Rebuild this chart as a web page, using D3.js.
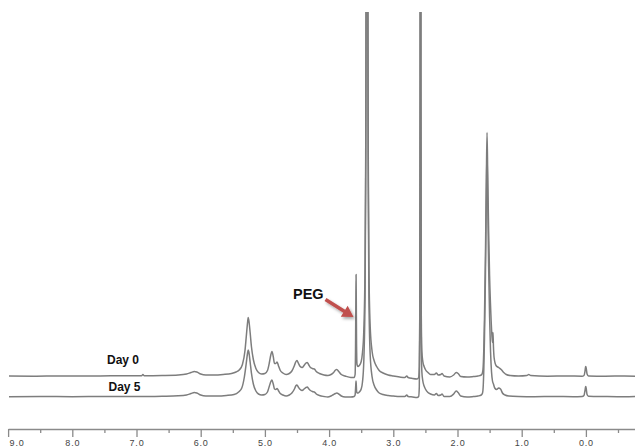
<!DOCTYPE html>
<html>
<head>
<meta charset="utf-8">
<script src="https://cdn.jsdelivr.net/npm/d3@7/dist/d3.min.js"></script>
<style>
  html, body { margin: 0; padding: 0; background: #fff; }
  svg { display: block; }
</style>
</head>
<body>
<svg id="chart" width="635" height="448"></svg>
<script>
// ---- Data ----
// chemical shift (ppm) -> intensity above each trace's own baseline
const day0Spectrum = [
  [9.00,0.5],[8.60,0.3],[8.20,0.6],[7.80,0.4],[7.40,0.7],[7.00,0.8],[6.92,0.8],[6.90,2.0],[6.88,0.8],
  [6.60,1.0],[6.35,1.5],[6.22,2.5],[6.15,4.0],[6.10,5.0],[6.06,4.5],[6.00,2.5],[5.92,1.5],[5.80,1.5],
  [5.65,2.0],[5.52,3.0],[5.45,4.5],[5.40,6.5],[5.35,12],[5.31,26],[5.29,40],[5.27,54],[5.26,59],
  [5.25,56],[5.23,44],[5.21,30],[5.18,17],[5.14,8],[5.10,4],[5.05,2.5],[5.00,3],[4.96,6],[4.93,14],
  [4.91,21],[4.89,25],[4.87,20],[4.85,13],[4.83,13],[4.81,14.5],[4.79,11],[4.76,6],[4.72,3.5],
  [4.67,2],[4.62,3],[4.58,5.5],[4.54,11],[4.52,14.5],[4.50,16],[4.48,13.5],[4.45,10],[4.42,9],
  [4.39,11],[4.36,13.5],[4.34,14],[4.32,12],[4.29,9],[4.26,8],[4.23,7.5],[4.20,5],[4.15,3],
  [4.08,1.5],[4.02,1],[3.97,2],[3.93,4],[3.90,6.5],[3.88,7],[3.85,5],[3.81,2],[3.75,0.5],[3.66,-1],
  [3.61,-1],[3.595,2],[3.588,30],[3.583,80],[3.580,102],[3.577,80],[3.572,30],[3.565,12],[3.55,10],
  [3.53,11],[3.50,15],[3.48,24],[3.46,45],[3.44,110],[3.43,220],[3.42,500],[3.41,1500],[3.40,500],
  [3.39,220],[3.38,110],[3.36,50],[3.33,25],[3.30,16],[3.26,10],[3.22,6],[3.16,3.5],[3.08,1.5],
  [3.00,0.5],[2.90,-0.5],[2.82,-1],[2.79,0.5],[2.77,-1],[2.70,-2],[2.63,-2.5],[2.605,-1],[2.595,10],
  [2.588,60],[2.582,300],[2.576,1500],[2.570,300],[2.564,60],[2.555,25],[2.54,15],[2.52,10],[2.50,7],
  [2.46,4],[2.42,2],[2.36,2],[2.33,3.5],[2.30,1.5],[2.26,2],[2.24,3],[2.21,0.5],[2.12,-0.5],[2.06,1.5],
  [2.02,4],[1.99,3],[1.95,0],[1.85,-0.5],[1.75,0],[1.68,0.5],[1.63,1.5],[1.61,4],[1.60,10],[1.59,28],
  [1.58,58],[1.565,120],[1.55,200],[1.54,244],[1.53,205],[1.515,145],[1.50,100],[1.48,62],[1.465,42],
  [1.455,34],[1.447,44],[1.440,30],[1.43,19],[1.40,11],[1.36,9],[1.32,7],[1.28,4],[1.24,2],[1.18,1],
  [1.05,0.5],[0.92,1],[0.89,2],[0.86,1],[0.60,0.3],[0.30,0.5],[0.06,0.3],[0.03,1],[0.015,5],
  [0.005,9.5],[0.00,10],[-0.008,7],[-0.018,2.5],[-0.04,0.5],[-0.30,0.3],[-0.60,0.5],[-0.77,0.3]
];
const day5Spectrum = [
  [9.00,0.3],[8.50,0.5],[8.00,0.3],[7.50,0.6],[7.00,0.5],[6.60,0.8],[6.35,1.2],[6.22,2],[6.15,3.5],
  [6.10,4.5],[6.06,4],[6.00,2],[5.92,1],[5.75,1],[5.60,1.5],[5.48,2.5],[5.41,5],[5.36,9],[5.32,20],
  [5.29,34],[5.27,44],[5.26,47],[5.25,45],[5.23,35],[5.21,24],[5.18,13],[5.14,6],[5.10,3],[5.05,2],
  [5.00,2.5],[4.96,5],[4.93,11],[4.91,15],[4.89,17],[4.87,13],[4.85,8],[4.83,7.5],[4.81,8.5],
  [4.79,6.5],[4.76,3.5],[4.72,2],[4.67,1],[4.62,2],[4.58,4],[4.54,8],[4.52,11],[4.50,12],[4.48,10],
  [4.45,7.5],[4.42,6.5],[4.39,8],[4.36,9.5],[4.34,10],[4.32,8.5],[4.29,6.5],[4.26,5.5],[4.23,5],
  [4.20,3],[4.15,1.5],[4.08,0.5],[4.02,0],[3.97,1],[3.93,2.5],[3.90,3.5],[3.88,4],[3.85,3],[3.81,1],
  [3.75,0],[3.66,0],[3.61,0.5],[3.595,2],[3.588,8],[3.583,14],[3.580,16],[3.577,13],[3.572,6],
  [3.565,4],[3.55,4],[3.53,5],[3.50,8],[3.48,15],[3.46,35],[3.44,100],[3.43,210],[3.42,500],
  [3.41,1500],[3.40,500],[3.39,210],[3.38,100],[3.36,42],[3.33,20],[3.30,12],[3.26,7],[3.22,4],
  [3.16,2.5],[3.08,1.5],[3.00,1],[2.90,0.5],[2.82,0.5],[2.79,2],[2.77,0.5],[2.70,0],[2.63,-0.5],
  [2.605,0.5],[2.595,10],[2.588,60],[2.582,300],[2.576,1500],[2.570,300],[2.564,60],[2.555,25],
  [2.54,16],[2.52,11],[2.50,8],[2.46,4.5],[2.42,3],[2.36,2],[2.33,3.5],[2.30,1.5],[2.26,2],[2.24,3],
  [2.21,0.5],[2.12,0.5],[2.06,3],[2.02,6],[1.99,4.5],[1.95,1],[1.85,0],[1.75,0.5],[1.68,1],[1.63,2],
  [1.61,4],[1.60,10],[1.59,28],[1.58,58],[1.565,120],[1.55,205],[1.54,247],[1.53,200],[1.515,130],
  [1.50,80],[1.485,45],[1.47,25],[1.455,16],[1.44,13],[1.42,9],[1.39,7.5],[1.36,9],[1.33,8],[1.30,4],
  [1.26,2],[1.20,1],[1.05,0.5],[0.80,0.3],[0.50,0.5],[0.20,0.3],[0.06,0.5],[0.03,1.5],[0.015,6],
  [0.005,10],[0.00,10.5],[-0.008,7],[-0.018,2.5],[-0.04,0.8],[-0.30,0.5],[-0.60,0.3],[-0.77,0.5]
];
const majorTicks = [9, 8, 7, 6, 5, 4, 3, 2, 1, 0];
const tickLabels = ["9.0", "8.0", "7.0", "6.0", "5.0", "4.0", "3.0", "2.0", "1.0", "0.0"];
const minorTicks = [8.5, 7.5, 6.5, 5.5, 4.5, 3.5, 2.5, 1.5, 0.5, -0.5];
const traceLabels = ["Day 0", "Day 5"];
const pegShift = 3.58;
const annotation = "PEG";

// ---- Layout ----
const W = 635, H = 448;
const svg = d3.select("#chart");
const axisY = 429;
const day5Offset = 20.5;

const x = d3.scaleLinear().domain([9, 0]).range([8.1, 585.9]);
const y = d3.scaleLinear().domain([0, 364.5]).range([376.5, 12]);
const xAxisScale = x.copy().domain([9, x.invert(W)]).range([8.1, W]);

const defs = svg.append("defs");
defs.append("clipPath").attr("id", "plotClip")
  .append("rect").attr("x", 9).attr("y", 12).attr("width", W - 9).attr("height", H - 12);
const f = defs.append("filter").attr("id", "shadow")
  .attr("x", "-30%").attr("y", "-30%").attr("width", "160%").attr("height", "160%");
f.append("feDropShadow").attr("dx", 1.5).attr("dy", 2).attr("stdDeviation", 1.5)
  .attr("flood-color", "#000").attr("flood-opacity", 0.35);

// ---- Spectra ----
const line = d3.line().x(d => x(d[0])).y(d => y(d[1])).curve(d3.curveMonotoneX);
const plot = svg.append("g").attr("clip-path", "url(#plotClip)");
[day0Spectrum, day5Spectrum].forEach((s, i) => {
  plot.append("path")
    .datum(s)
    .attr("transform", `translate(0,${i * day5Offset})`)
    .attr("fill", "none")
    .attr("stroke", "#7d7d7d")
    .attr("stroke-width", 1.5)
    .attr("stroke-linejoin", "round")
    .attr("d", line);
});

// ---- Axis ----
const axisG = svg.append("g");
const major = axisG.append("g").attr("transform", `translate(0,${axisY})`)
  .call(d3.axisBottom(xAxisScale).tickValues(majorTicks)
    .tickFormat((d, i) => tickLabels[i]).tickSize(8).tickSizeOuter(0).tickPadding(3));
major.select(".domain").attr("stroke", "#8a8a8a").attr("stroke-width", 1.5);
major.selectAll(".tick line").attr("stroke", "#8a8a8a").attr("stroke-width", 1.3);
major.selectAll(".tick text").attr("fill", "#444").attr("font-size", 9)
  .attr("font-family", "'Liberation Sans', Arial, sans-serif").attr("letter-spacing", 0.8)
  .attr("text-anchor", (d, i) => i === 0 ? "start" : "middle")
  .attr("dx", (d, i) => i === 0 ? 1 : 0);
const minor = axisG.append("g").attr("transform", `translate(0,${axisY})`)
  .call(d3.axisBottom(xAxisScale).tickValues(minorTicks).tickFormat("").tickSize(4).tickSizeOuter(0));
minor.select(".domain").remove();
minor.selectAll(".tick line").attr("stroke", "#8a8a8a").attr("stroke-width", 1.3);

// ---- Labels ----
svg.selectAll("text.trace").data(traceLabels).join("text")
  .attr("class", "trace")
  .attr("x", (d, i) => 107 + i * 1.5)
  .attr("y", (d, i) => 363.5 + i * 27.5)
  .attr("font-family", "'Liberation Sans', Arial, sans-serif")
  .attr("font-weight", "bold").attr("font-size", 12).attr("fill", "#111")
  .text(d => d);

svg.append("text")
  .attr("x", 293).attr("y", 298.5)
  .attr("font-family", "'Liberation Sans', Arial, sans-serif")
  .attr("font-weight", "bold").attr("font-size", 14.5).attr("fill", "#111")
  .text(annotation);

// Arrow pointing at the PEG peak
const tip = [x(pegShift) - 2.5, 317];
const start = [325.5, 299.5];
const dx = tip[0] - start[0], dy = tip[1] - start[1];
const len = Math.hypot(dx, dy);
const ux = dx / len, uy = dy / len, nx = -uy, ny = ux;
const headL = 11, headW = 6.5, shaftW = 1.8;
const bx = tip[0] - headL * ux, by = tip[1] - headL * uy;
const pts = [
  [start[0] + shaftW * nx, start[1] + shaftW * ny],
  [bx + shaftW * nx, by + shaftW * ny],
  [bx + headW * nx, by + headW * ny],
  tip,
  [bx - headW * nx, by - headW * ny],
  [bx - shaftW * nx, by - shaftW * ny],
  [start[0] - shaftW * nx, start[1] - shaftW * ny]
];
svg.append("path")
  .attr("d", "M" + pts.map(p => p.join(",")).join("L") + "Z")
  .attr("fill", "#c0504d")
  .attr("filter", "url(#shadow)");
</script>
</body>
</html>
